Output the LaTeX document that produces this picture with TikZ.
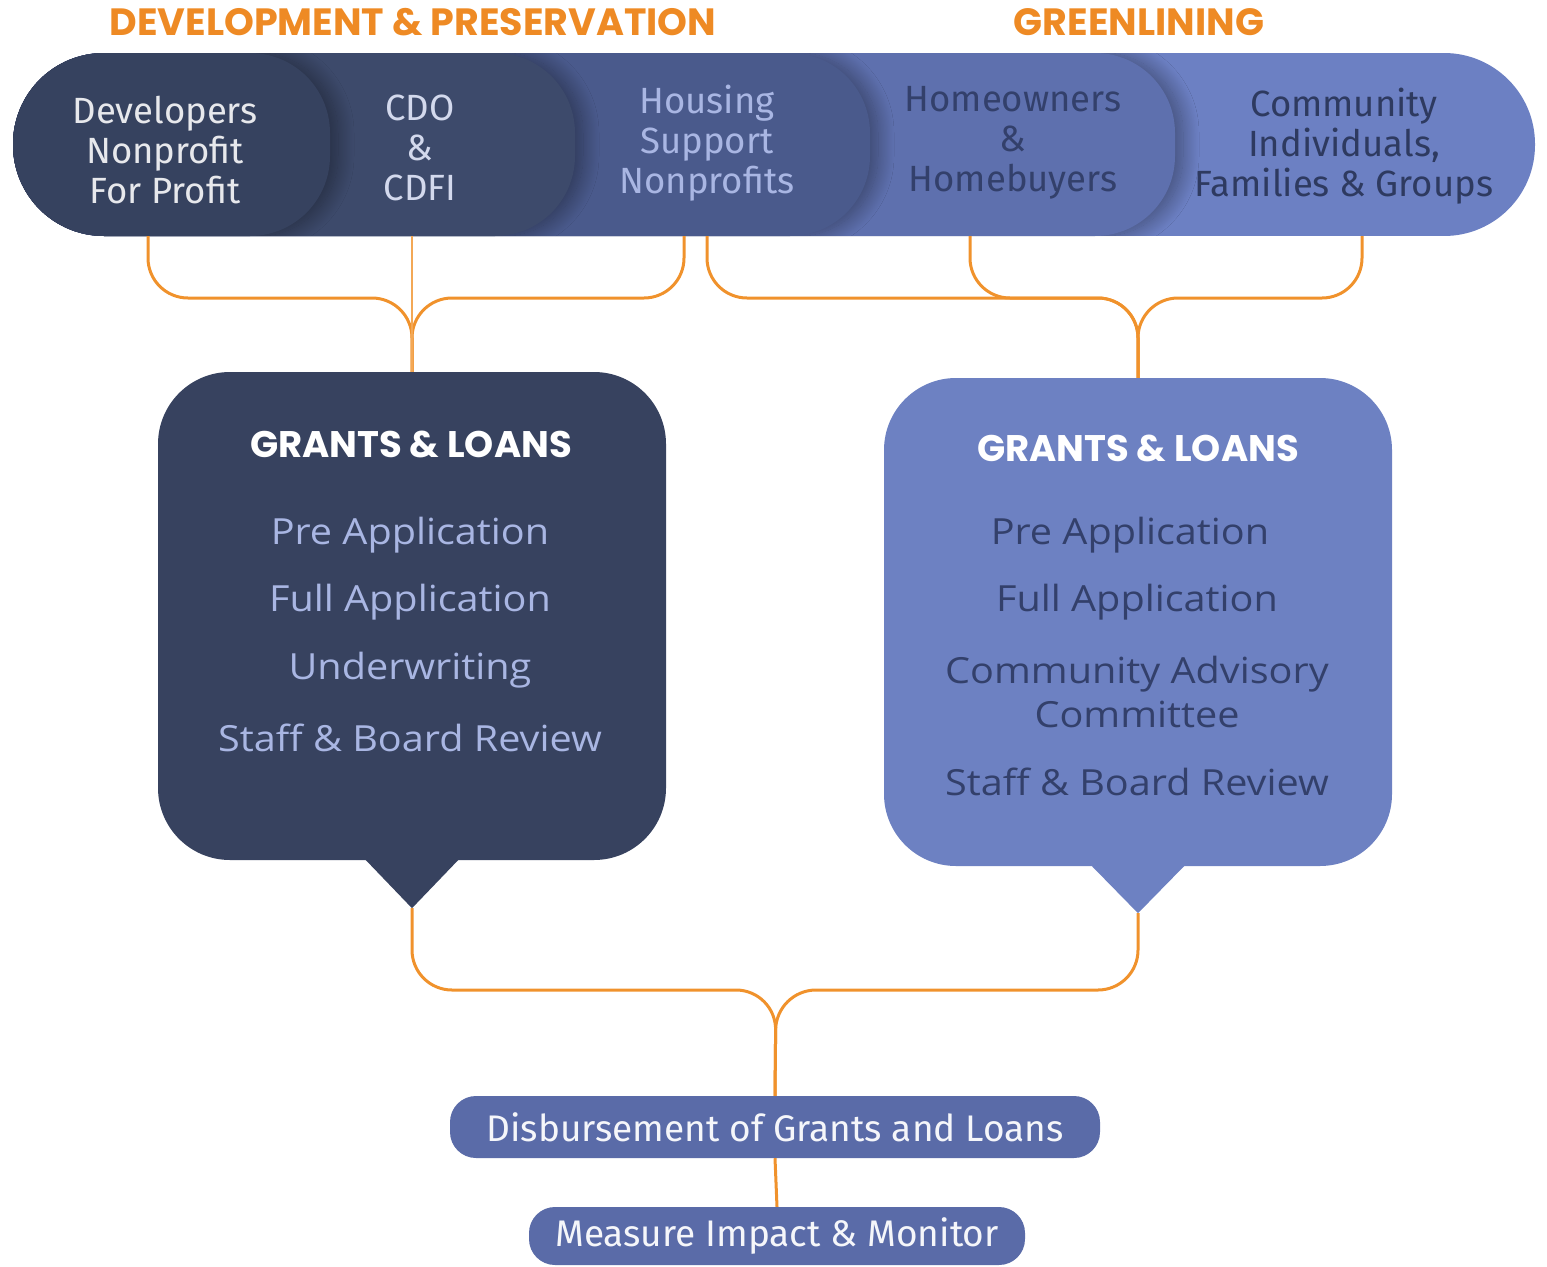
\documentclass[tikz,border=0pt]{standalone}
\usepackage{fontspec}
\usepackage{xcolor}
\usepackage{tikz}
\setmainfont{Open Sans}[FakeStretch=1.1]
\newfontfamily\segfont{Fira Sans}
\newfontfamily\headfont{Poppins}
\usetikzlibrary{shadows.blur}

\definecolor{flowor}{HTML}{F0922C}
\definecolor{heador}{HTML}{EE8A24}
\definecolor{segA}{HTML}{36425F}
\definecolor{segB}{HTML}{3D4A6B}
\definecolor{segC}{HTML}{4A5A8C}
\definecolor{segD}{HTML}{5E70AE}
\definecolor{segE}{HTML}{6C80C3}
\definecolor{boxdark}{HTML}{37425F}
\definecolor{boxlight}{HTML}{6D81C2}
\definecolor{pillblue}{HTML}{5A6BA8}
\definecolor{txtpale}{HTML}{A9B6E3}
\definecolor{txtdeep}{HTML}{33406B}

\begin{document}
\begin{tikzpicture}[x=1pt,y=1pt,yscale=-1,xscale=1,
  flow/.style={draw=flowor, line width=3pt, rounded corners=40pt},
  seg/.style={rounded corners=80pt, blur shadow={shadow xshift=8pt, shadow yshift=0pt, shadow blur radius=16pt, shadow blur steps=30, shadow opacity=38}},
  seglabel/.style={align=center, inner sep=0pt, font=\segfont\fontsize{36.5}{40}\selectfont},
  gbox/.style={rounded corners=72pt, minimum width=508pt, minimum height=488pt, inner sep=0pt},
  gtitle/.style={inner sep=0pt, text=white, font=\headfont\bfseries\fontsize{37}{40}\selectfont},
  gitem/.style={inner sep=0pt, align=center, font=\fontsize{36}{44}\selectfont},
  pill/.style={fill=pillblue, rounded corners=26pt, inner sep=0pt, text=white!94!pillblue, font=\segfont\fontsize{37}{40}\selectfont},
  heading/.style={inner sep=0pt, text=heador, font=\headfont\bfseries\fontsize{38}{40}\selectfont}]

\useasboundingbox (0,0) rectangle (1547,1266);

% Headings
\node[heading] (devhead) at (413,22) {DEVELOPMENT \& PRESERVATION};
\node[heading] (greenhead) at (1139,22) {GREENLINING};

%Shape: Banner, drawn right to left so each piece overlaps the next
\begin{scope}
\clip[rounded corners=91pt] (13,53) rectangle (1535,236);
\fill[segE] (-100,53) rectangle (1600,236);
\fill[segD, seg] (-100,53) rectangle (1175,236);
\fill[segC, seg] (-100,53) rectangle (870,236);
\fill[segB, seg] (-100,53) rectangle (575,236);
\fill[segA, seg] (-100,53) rectangle (330,236);
\end{scope}

% Text Node
\node[seglabel, text=white!88!segA] (devs) at (165,150) {Developers\\Nonprofit\\For Profit};
% Text Node
\node[seglabel, text=white!70!segE] (cdo) at (420,148) {CDO\\\&\\CDFI};
% Text Node
\node[seglabel, text=txtpale] (housing) at (707,143) {Housing\\Support\\Nonprofits};
% Text Node
\node[seglabel, text=txtdeep] (owners) at (1013,143) {Homeowners\\\&\\Homebuyers};
% Text Node
\node[seglabel, text=txtdeep!90!black] (community) at (1344,146) {Community\\Individuals,\\Families \& Groups};

% feet of the banner and the joins
\coordinate (devfoot) at (148,236);
\coordinate (cdofoot) at (412,236);
\coordinate (housfootl) at (684,236);
\coordinate (housfootr) at (707,236);
\coordinate (homefoot) at (970,236);
\coordinate (commfoot) at (1362,236);
\coordinate (ljoin) at (412,298);
\coordinate (rjoin) at (1138,298);
\coordinate (bjoin) at (776,990);

%Shape: Rounded Rect
\node[gbox, fill=boxdark] (lbox) at (412,616) {};
\coordinate (ltip) at ([yshift=48pt]lbox.south);
\fill[boxdark] ([xshift=-48pt,yshift=-2pt]lbox.south) -- ([xshift=48pt,yshift=-2pt]lbox.south) -- (ltip) -- cycle;
%Shape: Rounded Rect
\node[gbox, fill=boxlight] (rbox) at (1138,622) {};
\coordinate (rtip) at ([yshift=47pt]rbox.south);
\fill[boxlight] ([xshift=-48pt,yshift=-2pt]rbox.south) -- ([xshift=48pt,yshift=-2pt]rbox.south) -- (rtip) -- cycle;

%Shape: Pills
\node[pill, minimum width=650pt, minimum height=62pt] (disb) at (775,1127) {Disbursement of Grants and Loans};
\node[pill, minimum width=496pt, minimum height=58pt] (meas) at (777,1236) {Measure Impact \& Monitor};

%Curve Lines
\draw[flow] (devfoot) |- (ljoin) -- (lbox.north);
\draw[flow] (housfootl) |- (ljoin) -- (lbox.north);
\draw[draw=flowor!80!white, line width=1.6pt] (cdofoot) -- (lbox.north);
\draw[flow] (housfootr) |- (rjoin) -- (rbox.north);
\draw[flow] (homefoot) |- (rjoin) -- (rbox.north);
\draw[flow] (commfoot) |- (rjoin) -- (rbox.north);
\draw[flow] (ltip) |- (bjoin) -- (disb.north);
\draw[flow] (rtip) |- (bjoin) -- (disb.north);
\draw[flow] (disb.south) -- (meas.north);

% Text Node
\node[gtitle] (ltitle) at (411,444) {GRANTS \& LOANS};
\node[gitem, text=txtpale] (lpre) at (410,535) {Pre Application};
\node[gitem, text=txtpale] (lfull) at (410,602) {Full Application};
\node[gitem, text=txtpale] (lunder) at (410,670) {Underwriting};
\node[gitem, text=txtpale] (lreview) at (410,738) {Staff \& Board Review};
% Text Node
\node[gtitle] (rtitle) at (1138,448) {GRANTS \& LOANS};
\node[gitem, text=txtdeep] (rpre) at (1130,535) {Pre Application};
\node[gitem, text=txtdeep] (rfull) at (1137,602) {Full Application};
\node[gitem, text=txtdeep] (radvis) at (1137,692) {Community Advisory\\Committee};
\node[gitem, text=txtdeep] (rreview) at (1137,782) {Staff \& Board Review};
\end{tikzpicture}
\end{document}
